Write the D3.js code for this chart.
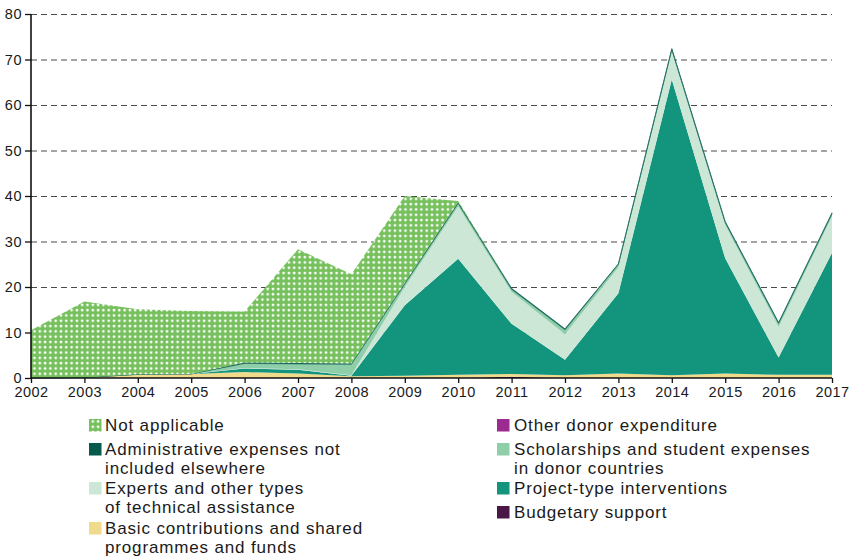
<!DOCTYPE html>
<html>
<head>
<meta charset="utf-8">
<script src="https://cdn.jsdelivr.net/npm/d3@7"></script>
<style>
  html, body { margin: 0; padding: 0; background: #fff; }
  svg { display: block; font-family: "Liberation Sans", Arial, sans-serif; }
</style>
</head>
<body>
<svg id="chart" width="851" height="556"></svg>
<script>
// ---- Data ----
const years = [2002,2003,2004,2005,2006,2007,2008,2009,2010,2011,2012,2013,2014,2015,2016,2017];
const budgetarySupport   = [0,0,0,0,0,0,0,0,0,0.3,0,0,0,0,0,0];
const basicContributions = [0,0.1,0.8,0.9,1.3,1.0,0.4,0.5,0.7,0.6,0.6,1.0,0.6,1.0,0.7,0.7];
const otherDonor         = [0,0,0,0,0,0,0,0,0,0,0,0,0,0,0,0];
const projectType        = [0,0,0,0,0.8,0.8,0.1,15.5,25.5,11.0,3.4,17.6,65.0,25.3,3.8,26.8];
const experts            = [0,0,0,0,0.1,0.1,0.1,4.0,11.5,7.0,5.6,5.7,6.0,7.3,6.7,8.0];
const scholarships       = [0,0,0,0,1.0,1.2,2.4,0.7,0.7,0.6,1.0,0.7,0.6,0.6,0.8,0.6];
const administrative     = [0,0,0,0,0.2,0.2,0.2,0.2,0.2,0.2,0.2,0.1,0.2,0.2,0.2,0.2];
const notApplicable      = [10.5,16.7,14.3,13.8,11.2,25.0,19.6,19.1,0.3,0,0,0,0,0,0,0];
const yTicks = [0,10,20,30,40,50,60,70,80];

const seriesKeys = ["budget","basic","other","project","experts","scholar","admin","na"];
const seriesData = {
  budget: budgetarySupport, basic: basicContributions, other: otherDonor,
  project: projectType, experts: experts, scholar: scholarships,
  admin: administrative, na: notApplicable
};
const colors = {
  budget: "#4b1747", basic: "#efdb8b", other: "#9c2b90", project: "#12957c",
  experts: "#cde7d7", scholar: "#8ecfa9", admin: "#065a4b", na: "url(#dots)"
};
const legendLeft = [
  {key:"na", lines:["Not applicable"]},
  {key:"admin", lines:["Administrative expenses not","included elsewhere"]},
  {key:"experts", lines:["Experts and other types","of technical assistance"]},
  {key:"basic", lines:["Basic contributions and shared","programmes and funds"]}
];
const legendRight = [
  {key:"other", lines:["Other donor expenditure"]},
  {key:"scholar", lines:["Scholarships and student expenses","in donor countries"]},
  {key:"project", lines:["Project-type interventions"]},
  {key:"budget", lines:["Budgetary support"]}
];

// ---- Chart ----
const svg = d3.select("#chart");
const margin = {left: 31, right: 19, top: 14, bottom: 178};
const W = 851, H = 556;
const x = d3.scaleLinear().domain([2002, 2017]).range([margin.left, W - margin.right]);
const y = d3.scaleLinear().domain([0, 80]).range([H - margin.bottom, margin.top]);

const defs = svg.append("defs");
const pat = defs.append("pattern").attr("id","dots").attr("patternUnits","userSpaceOnUse")
  .attr("width", 5.3).attr("height", 5.3);
pat.append("rect").attr("width",5.3).attr("height",5.3).attr("fill","#76c05d");
pat.append("rect").attr("x",1.5).attr("y",1.5).attr("width",2.4).attr("height",2.4).attr("rx",0.6).attr("fill","#ffffff");

// grid
svg.append("g").selectAll("line").data(yTicks.filter(d => d > 0)).join("line")
  .attr("x1", x(2002)).attr("x2", x(2017))
  .attr("y1", d => y(d) + 0.5).attr("y2", d => y(d) + 0.5)
  .attr("stroke", "#4a4a4a").attr("stroke-width", 1.1).attr("stroke-dasharray", "6,4");

// stacked areas
const table = years.map((yr, i) => {
  const o = {year: yr};
  seriesKeys.forEach(k => o[k] = seriesData[k][i]);
  return o;
});
const stacked = d3.stack().keys(seriesKeys)(table);
const area = d3.area()
  .x(d => x(d.data.year))
  .y0(d => y(d[0]))
  .y1(d => y(d[1]));

svg.append("g").selectAll("path").data(stacked).join("path")
  .attr("d", area)
  .attr("fill", d => colors[d.key])
  .attr("stroke", d => d.key === "admin" ? "#1d6a62" : "none")
  .attr("stroke-width", d => d.key === "admin" ? 0.7 : 0);

// axes
const yAxis = d3.axisLeft(y).tickValues(yTicks).tickSize(6).tickPadding(3).tickFormat(d3.format("d"));
const xAxis = d3.axisBottom(x).tickValues(years).tickSize(5).tickPadding(4).tickFormat(d3.format("d"));

const gy = svg.append("g").attr("transform", `translate(${margin.left},0)`).call(yAxis);
const gx = svg.append("g").attr("transform", `translate(0,${H - margin.bottom})`).call(xAxis);
[gx, gy].forEach(g => {
  g.select(".domain").attr("stroke", "#111").attr("stroke-width", 1.6);
  g.selectAll(".tick line").attr("stroke", "#111").attr("stroke-width", 1.3);
  g.selectAll("text").attr("fill", "#1a1a1a").style("font-size", "14.5px")
    .style("font-family", "'Liberation Sans', Arial, sans-serif").style("letter-spacing", "0.5px");
});
gy.select(".domain").attr("d", `M0,${y(80)}V${y(0)}`);
gx.select(".domain").attr("d", `M${x(2002)},0H${x(2017)}`);

// legend
function drawLegend(items, sx, tx, rowY) {
  const g = svg.append("g");
  items.forEach((it, i) => {
    const yy = rowY[i];
    g.append("rect").attr("x", sx).attr("y", yy - 6).attr("width", 12.5).attr("height", 12.5)
      .attr("fill", colors[it.key]);
    it.lines.forEach((ln, j) => {
      g.append("text").attr("x", tx).attr("y", yy + j * 18.5 + 6)
        .attr("fill", "#1a1a1a").style("font-size", "17px").style("letter-spacing", "0.85px")
        .text(ln);
    });
  });
}
drawLegend(legendLeft, 89, 105, [425, 449, 488, 528]);
drawLegend(legendRight, 497, 514, [425, 449, 488, 512]);
</script>
</body>
</html>
